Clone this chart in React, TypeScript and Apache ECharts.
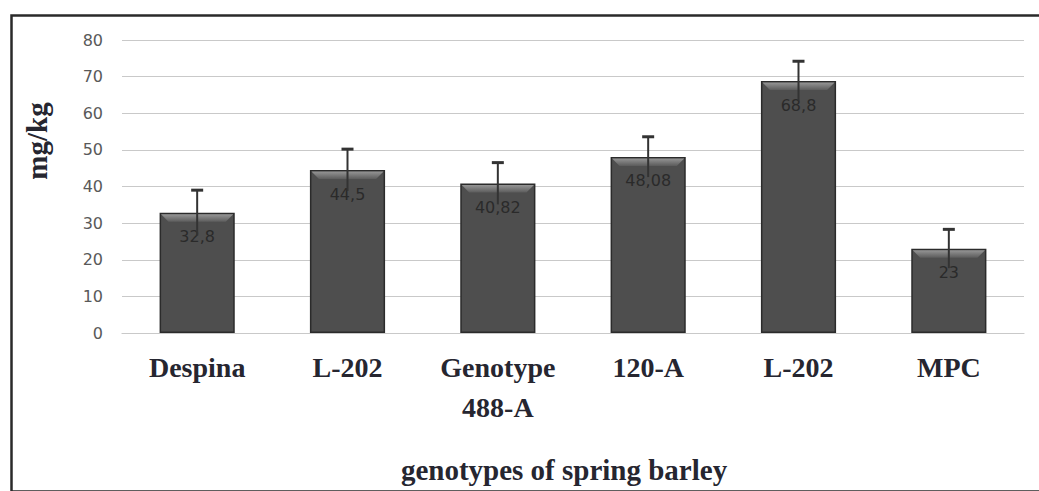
import React, { useEffect, useRef } from "react";
import * as echarts from "echarts";

const categories = ["Despina", "L-202", "Genotype\n488-A", "120-A", "L-202", "MPC"];
const values = [32.8, 44.5, 40.82, 48.08, 68.8, 23];
const labels = ["32,8", "44,5", "40,82", "48,08", "68,8", "23"];
const errors = [6.2, 5.7, 5.7, 5.5, 5.4, 5.3];
const yTicks = [0, 10, 20, 30, 40, 50, 60, 70, 80];

export default function App() {
  const ref = useRef<HTMLDivElement>(null);
  useEffect(() => {
    if (!ref.current) return;
    const chart = echarts.init(ref.current, null, { renderer: "svg" });
    const serif = "'Liberation Serif', 'Times New Roman', serif";
    const option: any = {
      animation: false,
      backgroundColor: "#ffffff",
      grid: { left: 122, right: 15, top: 40, bottom: 158, containLabel: false },
      xAxis: {
        type: "category",
        data: categories,
        axisLine: { show: true, lineStyle: { color: "#c9c9c9", width: 1.2 } },
        axisTick: { show: false },
        axisLabel: {
          interval: 0,
          margin: 14,
          fontFamily: serif,
          fontWeight: "bold",
          fontSize: 28,
          lineHeight: 40,
          color: "#262630",
        },
      },
      yAxis: {
        type: "value",
        min: yTicks[0],
        max: yTicks[yTicks.length - 1],
        interval: 10,
        axisLine: { show: false },
        axisTick: { show: false },
        axisLabel: {
          margin: 19,
          fontFamily: "'DejaVu Sans', Verdana, sans-serif",
          fontSize: 16,
          color: "#595959",
        },
        splitLine: { lineStyle: { color: "#c9c9c9", width: 1.2 } },
      },
      series: [
        {
          type: "bar",
          data: values,
          barWidth: "50%",
          itemStyle: { color: "#4e4e4e", borderColor: "#2b2b2b", borderWidth: 1.5 },
          label: {
            show: true,
            position: "insideTop",
            distance: 16,
            formatter: (p: any) => labels[p.dataIndex],
            fontFamily: "'DejaVu Sans', Verdana, sans-serif",
            fontSize: 16,
            color: "#2a2a2a",
          },
          z: 2,
        },
        {
          type: "custom",
          data: values.map((v, i) => [i, v, errors[i]]),
          z: 3,
          renderItem: (params: any, api: any) => {
            const i = api.value(0);
            const v = api.value(1);
            const e = api.value(2);
            const top = api.coord([i, v]);
            const hi = api.coord([i, v + e]);
            const lo = api.coord([i, v - e]);
            const bw = api.size([1, 0])[0] * 0.5;
            const x0 = top[0] - bw / 2;
            const x1 = top[0] + bw / 2;
            const y0 = top[1];
            return {
              type: "group",
              children: [
                {
                  type: "polygon",
                  shape: {
                    points: [
                      [x0 + 1.5, y0 + 1.5],
                      [x1 - 1.5, y0 + 1.5],
                      [x1 - 9, y0 + 9],
                      [x0 + 9, y0 + 9],
                    ],
                  },
                  style: {
                    fill: new echarts.graphic.LinearGradient(0, 0, 0, 1, [
                      { offset: 0, color: "#959595" },
                      { offset: 1, color: "#5c5c5c" },
                    ]),
                  },
                },
                {
                  type: "line",
                  shape: { x1: top[0], y1: hi[1], x2: top[0], y2: lo[1] },
                  style: { stroke: "#333333", lineWidth: 2 },
                },
                {
                  type: "line",
                  shape: { x1: top[0] - 6, y1: hi[1], x2: top[0] + 6, y2: hi[1] },
                  style: { stroke: "#333333", lineWidth: 3 },
                },
              ],
            };
          },
        },
      ],
      graphic: [
        {
          type: "rect",
          left: 9,
          top: 13,
          shape: { x: 0, y: 0, width: 1040, height: 476 },
          style: { fill: "none", stroke: "#2a2a2a", lineWidth: 2.5 },
          silent: true,
        },
        {
          type: "text",
          x: 37,
          y: 141,
          rotation: Math.PI / 2,
          style: {
            text: "mg/kg",
            fontFamily: serif,
            fontWeight: "bold",
            fontSize: 29,
            fill: "#262630",
            align: "center",
            verticalAlign: "middle",
          },
        },
        {
          type: "text",
          x: 564,
          y: 470,
          style: {
            text: "genotypes of spring barley",
            fontFamily: serif,
            fontWeight: "bold",
            fontSize: 29,
            fill: "#262630",
            align: "center",
            verticalAlign: "middle",
          },
        },
      ],
    };
    chart.setOption(option);
    return () => chart.dispose();
  }, []);
  return (
    <div
      ref={ref}
      style={{ position: "fixed", left: 0, top: 0, width: 1039, height: 491 }}
    />
  );
}
